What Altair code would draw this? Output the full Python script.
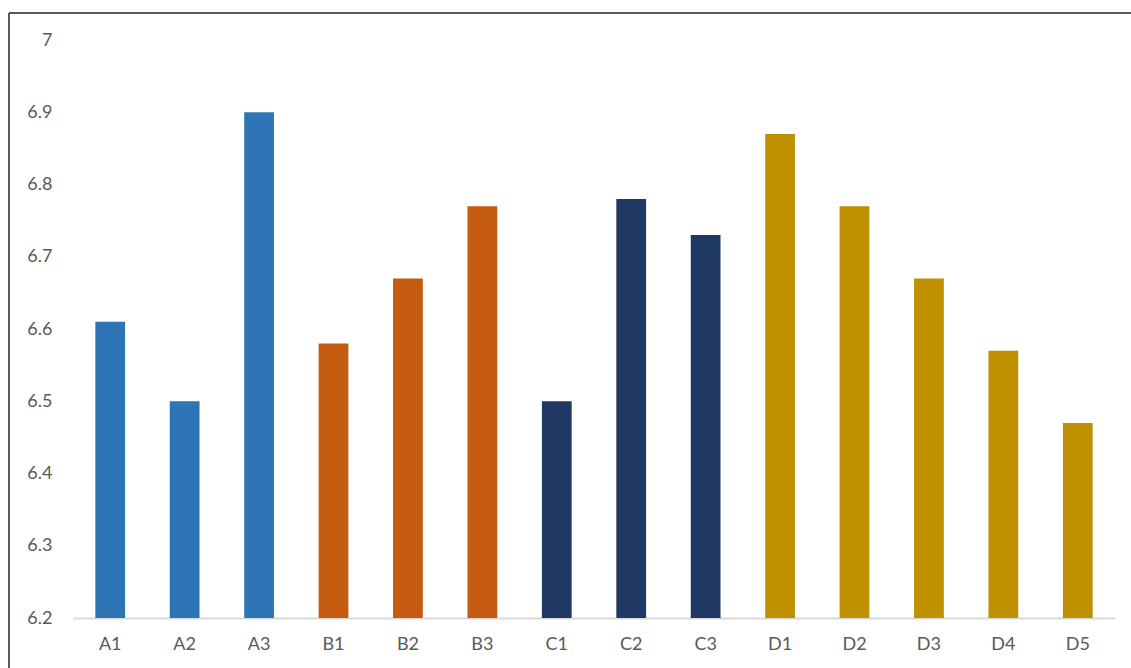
import altair as alt
import pandas as pd

categories = ["A1", "A2", "A3", "B1", "B2", "B3", "C1", "C2", "C3", "D1", "D2", "D3", "D4", "D5"]
values = [6.61, 6.50, 6.90, 6.58, 6.67, 6.77, 6.50, 6.78, 6.73, 6.87, 6.77, 6.67, 6.57, 6.47]
groups = ["A", "A", "A", "B", "B", "B", "C", "C", "C", "D", "D", "D", "D", "D"]
group_names = ["A", "B", "C", "D"]
group_colors = ["#2E75B6", "#C55A11", "#203864", "#BF9000"]
y_ticks = [6.2, 6.3, 6.4, 6.5, 6.6, 6.7, 6.8, 6.9, 7.0]

df = pd.DataFrame({"cat": categories, "val": values, "grp": groups, "base": [6.2] * len(values)})

W, H = 1042, 578
PL, PT = 73, 40

bars = alt.Chart(df).mark_bar().encode(
    x=alt.X("cat:N", sort=categories, title=None,
            scale=alt.Scale(paddingInner=0.6, paddingOuter=0.3),
            axis=alt.Axis(labelAngle=0, ticks=False, domainColor="#D9D9D9", domainWidth=2,
                          labelColor="#595959", labelFontSize=18, labelPadding=17,
                          labelFont="Lato")),
    y=alt.Y("val:Q", title=None,
            scale=alt.Scale(domain=[6.2, 7.0], zero=False, nice=False),
            axis=alt.Axis(values=y_ticks, format=".2~f", grid=False, domain=False, ticks=False,
                          labelColor="#595959", labelFontSize=18, labelPadding=21,
                          labelFont="Lato")),
    y2="base:Q",
    color=alt.Color("grp:N", scale=alt.Scale(domain=group_names, range=group_colors), legend=None),
)

frame_top = alt.Chart(df).mark_rule(color="#595959", strokeWidth=2).encode(
    x=alt.value(9 - PL), x2=alt.value(1131 - PL + 5), y=alt.value(13 - PT)
)
frame_left = alt.Chart(df).mark_rule(color="#595959", strokeWidth=2).encode(
    x=alt.value(9 - PL), y=alt.value(13 - PT), y2=alt.value(668 - PT + 5)
)

chart = alt.layer(bars, frame_top, frame_left).properties(
    width=W, height=H,
    background="white",
    autosize=alt.AutoSizeParams(type="none"),
    padding={"left": PL, "top": PT, "right": 1131 - PL - W, "bottom": 668 - PT - H},
).configure_view(strokeWidth=0, stroke="transparent")

chart.save("out.html", embed_options={"renderer": "svg", "actions": False})
